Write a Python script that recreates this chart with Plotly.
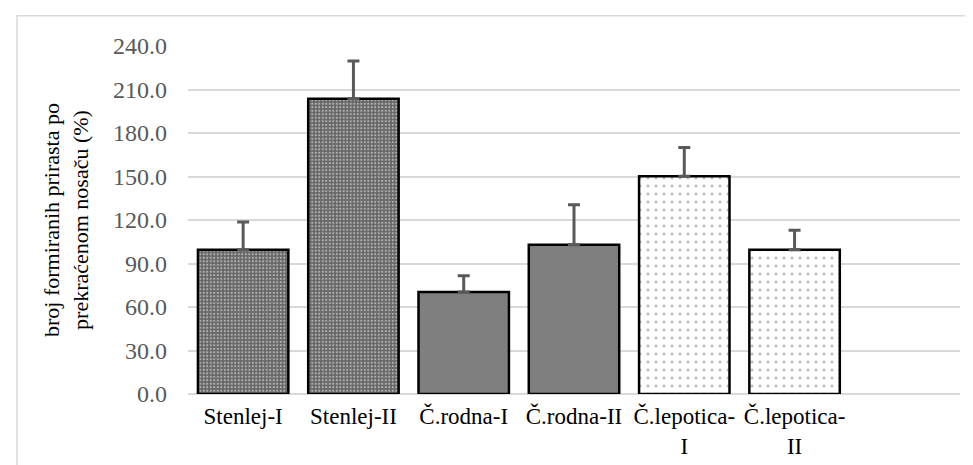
import plotly.graph_objects as go

categories = ["Stenlej-I", "Stenlej-II", "Č.rodna-I", "Č.rodna-II", "Č.lepotica-I", "Č.lepotica-II"]
tick_labels = ["Stenlej-I", "Stenlej-II", "Č.rodna-I", "Č.rodna-II", "Č.lepotica-<br>I", "Č.lepotica-<br>II"]
values = [99.5, 203.6, 70.3, 102.9, 150.2, 99.5]
errors = [19.1, 26.0, 11.2, 27.7, 19.8, 13.4]
groups = ["stenlej", "stenlej", "rodna", "rodna", "lepotica", "lepotica"]

# fill style per variety
STYLE = {
    "stenlej": dict(shape=".", bg="#666666", fg="#ffffff", size=3.5, solid=0.3),
    "rodna": dict(shape="", bg="#7f7f7f", fg="#7f7f7f", size=8, solid=0.2),
    "lepotica": dict(shape=".", bg="#ffffff", fg="#808080", size=8, solid=0.12),
}

FONT = "Liberation Serif"

fig = go.Figure()
for g in ["stenlej", "rodna", "lepotica"]:
    idx = [i for i, gg in enumerate(groups) if gg == g]
    s = STYLE[g]
    fig.add_trace(go.Bar(
        x=[categories[i] for i in idx],
        y=[values[i] for i in idx],
        marker=dict(
            color=s["bg"],
            line=dict(color="#000000", width=2.5),
            pattern=dict(shape=s["shape"], fgcolor=s["fg"], size=s["size"],
                         solidity=s["solid"], fillmode="overlay"),
        ),
        error_y=dict(type="data", array=[errors[i] for i in idx], symmetric=False,
                     arrayminus=[0] * len(idx), color="#595959", thickness=3, width=6),
    ))

fig.update_layout(
    width=973, height=465,
    margin=dict(l=180, r=21, t=38, b=79),
    paper_bgcolor="white", plot_bgcolor="white",
    font=dict(family=FONT, size=20, color="#595959"),
    barmode="overlay",
    bargap=0.18,
    showlegend=False,
    xaxis=dict(
        range=[-0.5, 6.5],
        categoryorder="array", categoryarray=categories,
        tickmode="array", tickvals=categories, ticktext=tick_labels,
        tickfont=dict(family=FONT, size=23, color="#000000"),
        showgrid=False, showline=False, ticks="", ticklabelstandoff=6,
    ),
    yaxis=dict(
        range=[0, 240], tickvals=[0, 30, 60, 90, 120, 150, 180, 210, 240],
        tickformat=".1f",
        tickfont=dict(family=FONT, size=24, color="#595959"),
        gridcolor="#d9d9d9", gridwidth=1.5,
        zeroline=True, zerolinecolor="#d9d9d9", zerolinewidth=1.5,
        showline=False, ticks="", ticklabelstandoff=20,
        title=dict(text="broj formiranih prirasta po<br>prekraćenom nosaču (%)",
                   font=dict(family=FONT, size=22, color="#000000"), standoff=18),
    ),
    shapes=[dict(type="rect", xref="paper", yref="paper",
                 x0=-0.2215, x1=1.2, y0=-0.4, y1=1.087,
                 line=dict(color="#d9d9d9", width=1.5), fillcolor="rgba(0,0,0,0)",
                 layer="below")],
)

fig.write_html("out.html")
